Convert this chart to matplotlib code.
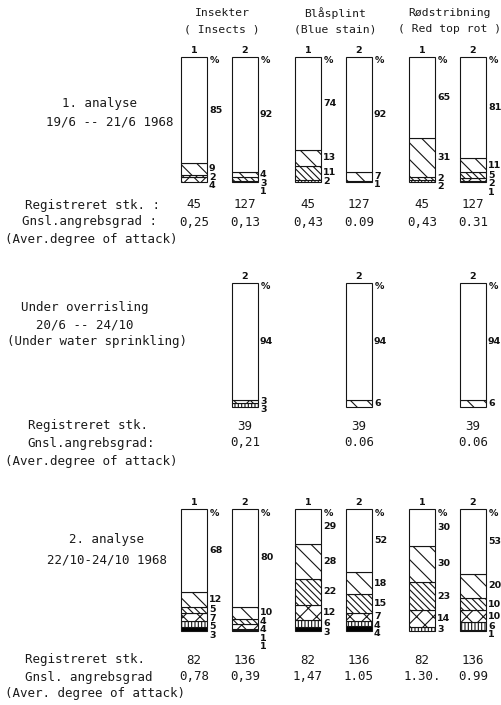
import matplotlib
matplotlib.use("Agg")
import matplotlib.pyplot as plt

W, H = 502, 705

# attack classes 0..5 (0 = no attack, 5 = heaviest attack)
class_hatch = [None, "\\\\", "\\\\\\\\\\", "xx", "|||||", None]
class_face = ["white", "white", "white", "white", "white", "black"]

group_titles = ["Insekter\n( Insects )", "Blåsplint\n(Blue stain)", "Rødstribning\n( Red top rot )"]

# percentage of logs per attack class, one row per bar
first_pct = [
    [85, 9, 2, 4, 0, 0],
    [92, 4, 3, 1, 0, 0],
    [74, 13, 11, 0, 2, 0],
    [92, 7, 1, 0, 0, 0],
    [65, 31, 2, 0, 2, 0],
    [81, 11, 5, 2, 1, 0],
]
first_ids = ["1", "2", "1", "2", "1", "2"]
first_n = ["45", "127", "45", "127", "45", "127"]
first_avg = ["0,25", "0,13", "0,43", "0.09", "0,43", "0.31"]

sprinkled_pct = [
    [94, 0, 0, 3, 3, 0],
    [94, 6, 0, 0, 0, 0],
    [94, 6, 0, 0, 0, 0],
]
sprinkled_ids = ["2", "2", "2"]
sprinkled_n = ["39", "39", "39"]
sprinkled_avg = ["0,21", "0.06", "0.06"]

second_pct = [
    [68, 12, 5, 7, 5, 3],
    [80, 10, 4, 4, 1, 1],
    [29, 28, 22, 12, 6, 3],
    [52, 18, 15, 7, 4, 4],
    [30, 30, 23, 14, 3, 0],
    [53, 20, 10, 10, 6, 1],
]
second_ids = ["1", "2", "1", "2", "1", "2"]
second_n = ["82", "136", "82", "136", "82", "136"]
second_avg = ["0,78", "0,39", "1,47", "1.05", "1.30.", "0.99"]

# layout (pixels)
x_all = [194, 245, 308, 359, 422, 473]
x_second = [245, 359, 473]
bar_w = 26
group_x = [222, 335, 450]

plt.rcParams["hatch.linewidth"] = 0.8
LBL = dict(family="DejaVu Sans Mono", fontsize=9, color="#1a1a1a")
HEAD = dict(family="DejaVu Sans Mono", fontsize=8.2, color="#1a1a1a")
PCT = dict(family="DejaVu Sans", fontsize=6.8, fontweight="bold", color="#111")

fig = plt.figure(figsize=(W / 100, H / 100), dpi=100)
fig.patch.set_facecolor("white")

# overlay axes in pixel coordinates for the free text
txt = fig.add_axes([0, 0, 1, 1])
txt.set_xlim(0, W)
txt.set_ylim(H, 0)
txt.axis("off")


def draw_section(pct, ids, xs, top, bottom):
    ax = fig.add_axes([0, 1 - bottom / H, 1, (bottom - top) / H])
    ax.set_xlim(0, W)
    ax.set_ylim(0, 100)
    ax.axis("off")
    px_per_pct = (bottom - top) / 100.0
    for row, bid, x in zip(pct, ids, xs):
        # stack from heaviest class at bottom up to class 0 at top
        base = 0
        for cls in range(5, -1, -1):
            v = row[cls]
            if v <= 0:
                continue
            ax.bar(x, v, bottom=base, width=bar_w, facecolor=class_face[cls],
                   edgecolor="#151515", linewidth=0.8, hatch=class_hatch[cls],
                   clip_on=False)
            base += v
        # value labels, top to bottom, pushed apart where segments are thin
        gap = 8.5 / px_per_pct
        top_edge = 100
        prev = None
        for cls in range(6):
            v = row[cls]
            if v <= 0:
                continue
            centre = top_edge - v / 2
            y = centre if prev is None else min(centre, prev - gap)
            ax.text(x + bar_w / 2 + 2, y, str(v), ha="left", va="center",
                    clip_on=False, **PCT)
            prev = y
            top_edge -= v
        ax.text(x, 100 + 6 / px_per_pct, bid, ha="center", va="center",
                clip_on=False, **PCT)
        ax.text(x + bar_w / 2 + 3, 100 - 4 / px_per_pct, "%", ha="left",
                va="center", clip_on=False, **PCT)


def draw_rows(xs, n, avg, y_n, y_avg):
    for x, a, b in zip(xs, n, avg):
        txt.text(x, y_n, a, ha="center", va="center", **LBL)
        txt.text(x, y_avg, b, ha="center", va="center", **LBL)


# column headings
for gx, title in zip(group_x, group_titles):
    l1, l2 = title.split("\n")
    txt.text(gx, 13, l1, ha="center", va="center", **HEAD)
    txt.text(gx, 29, l2, ha="center", va="center", **HEAD)

# 1. analyse
draw_section(first_pct, first_ids, x_all, 57, 182)
txt.text(100, 103, "1. analyse", ha="center", va="center", **LBL)
txt.text(110, 122, "19/6 -- 21/6 1968", ha="center", va="center", **LBL)
txt.text(25, 205, "Registreret stk. :", ha="left", va="center", **LBL)
txt.text(22, 222, "Gnsl.angrebsgrad :", ha="left", va="center", **LBL)
txt.text(5, 239, "(Aver.degree of attack)", ha="left", va="center", **LBL)
draw_rows(x_all, first_n, first_avg, 205, 222)

# under water sprinkling
draw_section(sprinkled_pct, sprinkled_ids, x_second, 283, 407)
txt.text(85, 308, "Under overrisling", ha="center", va="center", **LBL)
txt.text(85, 325, "20/6 -- 24/10", ha="center", va="center", **LBL)
txt.text(97, 342, "(Under water sprinkling)", ha="center", va="center", **LBL)
txt.text(28, 426, "Registreret stk.", ha="left", va="center", **LBL)
txt.text(27, 443, "Gnsl.angrebsgrad:", ha="left", va="center", **LBL)
txt.text(5, 461, "(Aver.degree of attack)", ha="left", va="center", **LBL)
draw_rows(x_second, sprinkled_n, sprinkled_avg, 426, 443)

# 2. analyse
draw_section(second_pct, second_ids, x_all, 509, 631)
txt.text(107, 539, "2. analyse", ha="center", va="center", **LBL)
txt.text(107, 560, "22/10-24/10 1968", ha="center", va="center", **LBL)
txt.text(25, 660, "Registreret stk.", ha="left", va="center", **LBL)
txt.text(25, 677, "Gnsl. angrebsgrad", ha="left", va="center", **LBL)
txt.text(5, 694, "(Aver. degree of attack)", ha="left", va="center", **LBL)
draw_rows(x_all, second_n, second_avg, 660, 677)

fig.savefig("out.png", dpi=100, facecolor="white")
